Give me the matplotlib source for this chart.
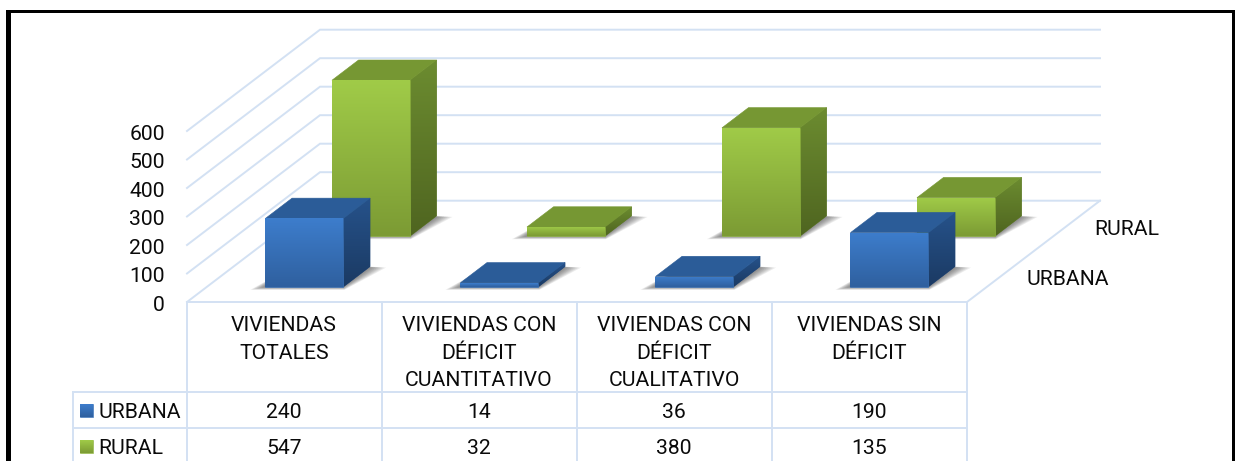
import numpy as np
import matplotlib
matplotlib.use("Agg")
import matplotlib.pyplot as plt
from matplotlib.patches import Polygon, Rectangle
from matplotlib.colors import to_rgb

categories = ["VIVIENDAS\nTOTALES", "VIVIENDAS CON\nDÉFICIT\nCUANTITATIVO",
              "VIVIENDAS CON\nDÉFICIT\nCUALITATIVO", "VIVIENDAS SIN\nDÉFICIT"]
urbana = [240, 14, 36, 190]
rural = [547, 32, 380, 135]
ticks = [0, 100, 200, 300, 400, 500, 600]

plt.rcParams["font.family"] = ["Roboto", "Liberation Sans"]
FS = 15.2
BASE = 7.8  # half the cap height, in pixels: labels are placed on their baseline

W, H = 1235, 461
fig = plt.figure(figsize=(W / 100, H / 100), dpi=100)
ax = fig.add_axes([0, 0, 1, 1])
ax.axis("off")

GRID = "#D3E1F3"
X0, Y0, CW, DX, DY, VK = 187.0, 302.0, 195.0, 133.0, -101.3, 0.285


def label(x, y, s, ha="center"):
    ax.text(x, y + BASE, s, ha=ha, va="baseline", fontsize=FS, color="#0A0A0A", zorder=6)


def pr(c, d, v=0.0):
    return (X0 + c * CW + d * DX, Y0 + d * DY - v * VK)


def grad(poly, top, bottom, z):
    pts = np.array(poly)
    a = np.linspace(0, 1, 64)[:, None]
    c0, c1 = np.array(to_rgb(top)), np.array(to_rgb(bottom))
    img = (1 - a) * c0 + a * c1
    # solid underlay hides the seam left by the clipped image's soft edge
    ax.add_patch(Polygon(poly, closed=True, fc=tuple((c0 + c1) / 2), ec=tuple((c0 + c1) / 2), lw=0.4, zorder=z))
    im = ax.imshow(img[:, None, :], extent=(pts[:, 0].min(), pts[:, 0].max(), pts[:, 1].max(), pts[:, 1].min()),
                   aspect="auto", zorder=z + 0.1, interpolation="bilinear")
    p = Polygon(poly, closed=True, transform=ax.transData, fc="none", ec="none")
    ax.add_patch(p)
    im.set_clip_path(p)


def bar(c, d0, d1, v, pal, z):
    c0, c1 = c + 0.3, c + 0.7
    # soft floor shadow
    a, b, e, f = pr(c0, d0), pr(c1, d0), pr(c1, d1), pr(c0, d1)
    for i in range(1, 9):
        s = i / 8
        sh = [(a[0] - 15 * s, a[1] + 3 * s), (b[0] + 1 * s, b[1] + 3 * s),
              (e[0] + 16 * s, e[1] + 1 * s), (f[0], f[1])]
        ax.add_patch(Polygon(sh, closed=True, fc="#303030", ec="none", alpha=0.09, zorder=z))
    front = [pr(c0, d0, v), pr(c1, d0, v), pr(c1, d0), pr(c0, d0)]
    side = [pr(c1, d0, v), pr(c1, d1, v), pr(c1, d1), pr(c1, d0)]
    top = [pr(c0, d0, v), pr(c1, d0, v), pr(c1, d1, v), pr(c0, d1, v)]
    grad(side, pal[3], pal[4], z + 1)
    ax.add_patch(Polygon(top, closed=True, fc=pal[2], ec=pal[2], lw=0.4, zorder=z + 1.5))
    grad(front, pal[0], pal[1], z + 2)


BLUE = ("#3D7DCC", "#2F609F", "#2B5C98", "#26528A", "#1B3A63")
GREEN = ("#A0CB48", "#7C9B34", "#769733", "#6C8C30", "#4F6520")

# walls and floor
for t in ticks:
    l = pr(0, 0, t)
    m = pr(0, 1, t)
    r = pr(4, 1, t)
    ax.plot([l[0], m[0], r[0]], [l[1], m[1], r[1]], color=GRID, lw=1.4, zorder=1, solid_joinstyle="miter")
    label(165, l[1] + 1, str(t), ha="right")
fr, br = pr(4, 0), pr(4, 1)
ax.plot([fr[0], br[0]], [fr[1], br[1]], color=GRID, lw=1.4, zorder=1)

# bars: back row first
for i, v in enumerate(rural):
    bar(i, 0.65, 0.85, v, GREEN, 2)
for i, v in enumerate(urbana):
    bar(i, 0.15, 0.35, v, BLUE, 6)

# data table
TB = [302, 391.5, 427.5, 461]
TL = 73
for i in range(5):
    x = X0 + i * CW
    ax.plot([x, x], [TB[0], TB[3]], color=GRID, lw=1.4, zorder=1)
ax.plot([X0, X0 + 4 * CW], [TB[0]] * 2, color=GRID, lw=1.4, zorder=1)
for y in TB[1:3]:
    ax.plot([TL, X0 + 4 * CW], [y, y], color=GRID, lw=1.4, zorder=1)
ax.plot([TL, TL], [TB[1], TB[3]], color=GRID, lw=1.4, zorder=1)

for i, cat in enumerate(categories):
    cx = X0 + (i + 0.5) * CW - 0.5
    for j, line in enumerate(cat.split("\n")):
        label(cx, 323.5 + 27.5 * j, line)
    label(cx, 410, str(urbana[i]))
    label(cx, 446.5, str(rural[i]))

for name, y, pal in (("URBANA", 410, BLUE), ("RURAL", 446, GREEN)):
    grad([(80, y - 6.5), (93, y - 6.5), (93, y + 6.5), (80, y + 6.5)], pal[0], pal[1], 3)
    label(98, y, name, ha="left")

label(1094, 227, "RURAL", ha="left")
label(1027, 277, "URBANA", ha="left")

# black frame (open at the bottom)
ax.add_patch(Rectangle((6, 10), 5, H - 10, fc="#000000", ec="none", zorder=8))
ax.add_patch(Rectangle((6, 10), 1228, 3, fc="#000000", ec="none", zorder=8))
ax.add_patch(Rectangle((1232, 10), 3, H - 10, fc="#000000", ec="none", zorder=8))

ax.set_xlim(0, W)
ax.set_ylim(H, 0)
fig.savefig("out.png", dpi=100, facecolor="white")
